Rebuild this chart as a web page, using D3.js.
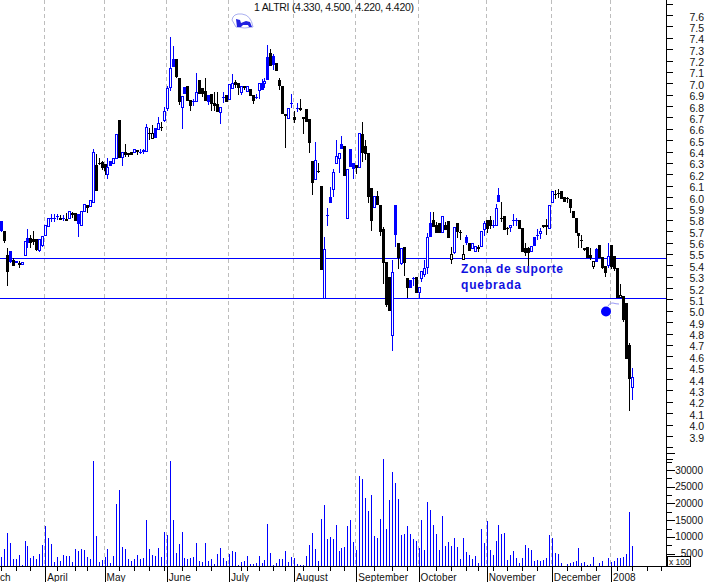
<!DOCTYPE html>
<html><head><meta charset="utf-8">
<script src="https://cdn.jsdelivr.net/npm/d3@7/dist/d3.min.js"></script>
<style>html,body{margin:0;padding:0;background:#fff;overflow:hidden}svg{display:block}text{font-family:"Liberation Sans",Arial,sans-serif}</style>
</head><body><svg id="c" width="707" height="582"></svg>
<script>
const opens=[5.79,5.70,5.49,5.53,5.45,5.44,5.42,5.41,5.49,5.64,
5.64,5.63,5.63,5.53,5.58,5.66,5.75,5.82,5.82,5.83,
5.82,5.82,5.81,5.82,5.86,5.86,5.85,5.76,5.88,5.93,
5.92,5.96,6.28,6.30,6.31,6.29,6.20,6.32,6.30,6.34,
6.68,6.36,6.40,6.39,6.40,6.39,6.41,6.40,6.40,6.41,
6.56,6.52,6.61,6.60,6.62,6.68,6.78,6.96,7.21,7.21,
7.05,6.79,6.97,6.98,6.85,6.84,6.84,7.03,6.96,6.93,
6.90,6.91,6.83,6.82,6.75,6.88,6.90,6.86,6.96,7.01,
7.00,6.93,6.98,6.94,6.95,6.90,6.88,6.94,7.00,7.00,
7.23,7.27,7.24,7.18,7.03,6.98,6.73,6.69,6.83,6.70,
6.78,6.78,6.70,6.77,6.69,6.32,6.16,6.23,6.10,5.11,
5.84,6.00,6.07,6.30,6.35,6.47,6.45,5.82,6.42,6.30,
6.28,6.26,6.55,6.45,6.39,6.08,5.91,6.01,5.93,5.72,
5.43,5.30,4.79,5.93,5.60,5.42,5.56,5.29,5.27,5.29,
5.30,5.17,5.29,5.33,5.39,5.77,5.80,5.75,5.77,5.69,
5.75,5.79,5.46,5.52,5.77,5.69,5.46,5.65,5.60,5.56,
5.53,5.56,5.57,5.72,5.80,5.80,5.75,5.75,6.02,5.82,
5.83,5.73,5.73,5.80,5.80,5.80,5.73,5.55,5.55,5.53,
5.65,5.67,5.68,5.75,5.75,5.73,5.95,6.03,6.04,6.05,
6.00,5.99,5.98,5.88,5.82,5.68,5.62,5.55,5.56,5.49,
5.40,5.54,5.58,5.47,5.39,5.40,5.58,5.48,5.38,5.12,
5.13,5.07,4.70,4.33];
const highs=[5.79,5.70,5.55,5.53,5.46,5.44,5.44,5.43,5.61,5.72,
5.67,5.70,5.63,5.63,5.66,5.75,5.82,5.85,5.85,5.85,
5.84,5.84,5.86,5.88,5.87,5.86,5.85,5.88,5.94,5.93,
5.97,6.42,6.38,6.34,6.32,6.29,6.34,6.32,6.34,6.55,
6.68,6.40,6.47,6.39,6.40,6.42,6.41,6.42,6.42,6.64,
6.61,6.63,6.61,6.70,6.66,6.79,6.98,7.41,7.33,7.21,
7.05,6.89,6.97,6.98,6.85,6.86,7.09,7.03,6.96,7.05,
6.90,6.91,6.92,6.92,6.79,6.92,6.90,6.99,7.08,7.03,
7.00,6.98,6.98,6.98,6.95,6.90,6.91,7.00,7.04,7.05,
7.34,7.30,7.26,7.18,7.05,6.98,6.73,6.78,6.91,6.76,
6.83,6.86,6.70,6.77,6.69,6.32,6.48,6.30,6.10,5.65,
5.90,6.09,6.25,6.50,6.39,6.54,6.45,6.25,6.42,6.30,
6.28,6.56,6.66,6.50,6.39,6.08,6.01,6.05,5.93,5.74,
5.43,5.30,5.45,5.93,5.60,5.55,5.56,5.29,5.27,5.30,
5.30,5.21,5.35,5.45,5.68,5.87,5.87,5.78,5.77,5.83,
5.78,5.79,5.56,5.74,5.77,5.71,5.58,5.67,5.60,5.60,
5.57,5.58,5.70,5.79,5.80,5.83,5.80,5.94,6.08,5.96,
5.83,5.74,5.75,5.85,5.82,5.80,5.73,5.60,5.56,5.57,
5.65,5.72,5.73,5.75,5.81,5.93,6.05,6.06,6.07,6.05,
6.00,6.00,5.98,5.88,5.82,5.68,5.67,5.55,5.56,5.55,
5.44,5.55,5.58,5.47,5.39,5.60,5.58,5.48,5.38,5.24,
5.13,5.07,4.72,4.50];
const lows=[5.69,5.60,5.22,5.42,5.39,5.42,5.38,5.41,5.49,5.55,
5.55,5.58,5.53,5.52,5.56,5.66,5.75,5.78,5.78,5.80,
5.80,5.79,5.79,5.82,5.82,5.79,5.65,5.76,5.88,5.86,
5.92,5.96,6.05,6.28,6.24,6.19,6.16,6.28,6.30,6.34,
6.35,6.27,6.35,6.35,6.37,6.39,6.37,6.38,6.38,6.41,
6.50,6.52,6.52,6.60,6.58,6.66,6.76,6.93,7.14,7.05,
6.81,6.60,6.91,6.85,6.76,6.80,6.84,6.91,6.88,6.84,
6.81,6.76,6.76,6.75,6.64,6.83,6.84,6.86,6.96,6.96,
6.90,6.90,6.94,6.94,6.89,6.82,6.86,6.86,6.94,6.96,
7.03,7.16,7.12,7.11,6.94,6.73,6.43,6.69,6.78,6.65,
6.75,6.76,6.55,6.66,6.39,6.02,6.16,6.21,5.36,5.11,
5.75,5.95,6.00,6.30,6.21,6.43,6.19,5.82,6.26,6.16,
6.20,6.26,6.31,6.33,5.95,5.70,5.91,5.93,5.66,5.24,
5.03,5.00,4.65,5.56,5.37,5.40,5.31,5.11,5.20,5.22,
5.16,5.11,5.25,5.30,5.32,5.65,5.74,5.68,5.68,5.69,
5.71,5.64,5.41,5.50,5.64,5.62,5.46,5.58,5.53,5.55,
5.53,5.52,5.57,5.66,5.68,5.72,5.73,5.75,5.96,5.78,
5.71,5.67,5.69,5.75,5.75,5.72,5.52,5.48,5.39,5.53,
5.57,5.62,5.63,5.73,5.67,5.73,5.95,5.98,5.99,5.98,
5.96,5.95,5.86,5.82,5.69,5.55,5.55,5.53,5.46,5.45,
5.37,5.43,5.47,5.37,5.30,5.38,5.37,5.35,5.12,5.12,
4.90,4.58,4.12,4.22];
const closes=[5.70,5.61,5.34,5.43,5.40,5.42,5.40,5.43,5.61,5.60,
5.60,5.60,5.53,5.63,5.66,5.75,5.82,5.82,5.82,5.83,
5.80,5.82,5.79,5.88,5.84,5.79,5.76,5.88,5.94,5.90,
5.97,6.40,6.05,6.30,6.26,6.23,6.26,6.28,6.34,6.55,
6.35,6.40,6.37,6.37,6.37,6.42,6.39,6.40,6.41,6.62,
6.56,6.56,6.52,6.65,6.62,6.76,6.96,7.13,7.14,7.05,
6.84,6.89,6.91,6.85,6.80,6.84,6.92,6.91,6.91,6.84,
6.84,6.82,6.80,6.75,6.79,6.88,6.84,6.99,7.00,6.98,
6.96,6.98,6.96,6.98,6.89,6.85,6.88,7.00,6.94,7.02,
7.03,7.16,7.16,7.11,6.98,6.73,6.71,6.78,6.83,6.67,
6.78,6.76,6.68,6.66,6.48,6.13,6.33,6.23,5.36,5.54,
5.84,5.95,6.22,6.36,6.39,6.43,6.19,6.25,6.26,6.25,
6.25,6.56,6.38,6.38,6.00,5.79,6.01,5.93,5.69,5.42,
5.05,5.00,5.34,5.67,5.47,5.55,5.42,5.20,5.20,5.29,
5.16,5.21,5.35,5.38,5.65,5.65,5.74,5.68,5.68,5.83,
5.71,5.64,5.50,5.74,5.69,5.69,5.50,5.60,5.53,5.60,
5.57,5.54,5.70,5.77,5.72,5.75,5.75,5.90,5.96,5.82,
5.71,5.73,5.75,5.80,5.80,5.72,5.52,5.51,5.51,5.57,
5.57,5.67,5.70,5.73,5.73,5.93,6.05,6.03,6.04,5.98,
5.96,5.98,5.90,5.82,5.69,5.65,5.62,5.53,5.46,5.46,
5.44,5.43,5.47,5.37,5.33,5.48,5.39,5.37,5.12,5.14,
4.92,4.58,4.40,4.42];
const tones=("bkkbkbkbbb"+"kkkbbbbbbb"+"kbkbkkbbbk"+"bbkkkkbbbb"+"kbkkkbkbbb"+"kkbbkbbbbk"+
"kbbkkbbkkk"+"bkkkbbkbbk"+"kbkbkkbbbb"+"bkbkkkkbbk"+"bkkkkkbkkb"+"bbbbbbkbbb"+"kbkkkkbkkk"+
"kkbbkbkkbb"+"kbbbbbkkkb"+"kkkbkkkbkb"+"bkbbkkbbbk"+"kkbbbkkkkb"+"bbbkkbbkkk"+"kkkkkkkkkk"+
"kbkkkbkkkk"+"kkkb").split("");
const volumes=[4000,6400,11200,8200,3400,3400,4600,1600,8800,7300,
3700,4300,3400,4900,7600,13300,9700,7900,2500,4000,
2800,4600,4300,4300,2500,6400,5800,6400,6100,4000,
3400,32800,10300,2500,3100,4000,6400,2200,4300,19900,
24100,7000,6400,3400,2800,3400,4600,3400,3700,15100,
6400,4600,4300,6700,4000,11500,10600,32800,15100,5200,
7900,11500,3700,3400,3700,4000,8200,2800,2500,8200,
2800,3400,1900,4900,6700,3700,2800,4900,5800,5500,
1600,2500,2800,4300,1900,1900,2200,4300,2200,3100,
13900,5200,1600,2200,3400,3400,5800,2500,4000,3700,
1900,1600,1600,4300,7600,11200,6400,2800,15400,19600,
9400,10000,9400,13600,5800,6700,7000,13300,15100,8500,
6100,28300,27400,21700,17800,22600,10300,9700,15400,33400,
12400,21100,29500,26200,21400,10600,10900,13300,10900,9400,
8800,6700,15100,6100,20500,18100,13600,10900,6100,16300,
7300,8500,7300,9700,7000,3400,9700,5500,4600,3400,
4300,2200,12400,8200,14800,6100,4600,8800,13600,10900,
11200,3100,4600,5800,3700,2200,3700,7600,6700,6100,
2800,3100,2800,3100,3700,10600,9700,5200,4900,2200,
1000,1900,2200,2500,2800,6700,2200,2500,1600,1900,
4000,1000,2200,2800,1000,3700,2500,2800,3700,3700,
4000,4900,17500,7300];
const monthNames=["ch","April","May","June","July","August","September","October","November","December","2008"];
const monthStarts=[-1,15,35,56,77,99,120,141,164,186,206];
const weekTicks=[0,5,10,19,25,29,40,45,50,55,61,66,71,81,83,87,92,96,102,107,111,116,126,132,137,147,152,157,161,166,171,176,181,191,196,201,208,213,218,223];
const priceLabels=d3.range(39,77).map(d=>d/10);
const priceTicks=d3.range(37,78).map(d=>d/10);
const volumeTicks=d3.range(1,15).map(d=>d*2500);
const supportLevels=[5.462,5.11];
const title="1 ALTRI (4.330, 4.500, 4.220, 4.420)";
const note=["Zona de suporte","quebrada"];

const svg=d3.select("#c");
const blue="#0000ff", ink="#000", grid="#bdbdbd";
const axisX=666.5, baseY=566.5;
const x=d3.scaleLinear().domain([0,213]).range([1.33,632.3]);
const y=d3.scaleLinear().domain([3.9,7.6]).range([436,15]);
const v=d3.scaleLinear().domain([0,30000]).range([570.4,470]);
const px=i=>Math.floor(x(i))+0.5;

// month gridlines
svg.append("g").selectAll("line").data(monthStarts.slice(1)).join("line")
 .attr("x1",d=>px(d)-1).attr("x2",d=>px(d)-1).attr("y1",0).attr("y2",baseY)
 .attr("stroke",grid).attr("stroke-width",1).attr("stroke-dasharray","4 3").attr("shape-rendering","crispEdges");

// support lines
svg.append("g").selectAll("line").data(supportLevels).join("line")
 .attr("x1",0).attr("x2",axisX).attr("y1",d=>Math.round(y(d))+0.5).attr("y2",d=>Math.round(y(d))+0.5)
 .attr("stroke",blue).attr("stroke-width",1).attr("shape-rendering","crispEdges");

// volume
svg.append("g").selectAll("rect").data(volumes).join("rect")
 .attr("x",(d,i)=>Math.floor(x(i))).attr("width",1)
 .attr("y",d=>v(d)).attr("height",d=>Math.max(0,baseY-v(d)))
 .attr("fill",blue).attr("shape-rendering","crispEdges");

// candles
const bars=d3.range(opens.length).map(i=>({i,o:opens[i],h:highs[i],l:lows[i],c:closes[i],col:tones[i]==="b"?blue:ink}));
const g=svg.append("g").attr("shape-rendering","crispEdges");
g.selectAll("line").data(bars).join("line")
 .attr("x1",d=>px(d.i)).attr("x2",d=>px(d.i))
 .attr("y1",d=>y(d.h)).attr("y2",d=>y(d.l)).attr("stroke",d=>d.col).attr("stroke-width",1);
g.selectAll("rect").data(bars).join("rect")
 .each(function(d){
  const top=y(Math.max(d.o,d.c)), bot=y(Math.min(d.o,d.c)), fx=Math.floor(x(d.i));
  const s=d3.select(this);
  if(d.c>d.o){ s.attr("x",fx-0.5).attr("width",2).attr("y",Math.round(top)+0.5).attr("height",Math.max(1,Math.round(bot-top)))
     .attr("fill","#fff").attr("stroke",d.col).attr("stroke-width",1); }
  else { s.attr("x",fx-1).attr("width",3).attr("y",Math.round(top)).attr("height",Math.max(1,Math.round(bot-top)))
     .attr("fill",d.col).attr("stroke","none"); }
 });

// axes
const ax=svg.append("g").attr("shape-rendering","crispEdges").attr("stroke",ink).attr("stroke-width",1);
ax.append("line").attr("x1",0).attr("x2",axisX).attr("y1",baseY).attr("y2",baseY);
ax.append("line").attr("x1",axisX).attr("x2",axisX).attr("y1",0).attr("y2",baseY);
ax.selectAll(".w").data(weekTicks).join("line").attr("class","w").attr("x1",d=>px(d)).attr("x2",d=>px(d)).attr("y1",baseY).attr("y2",baseY+4);
ax.selectAll(".m").data(monthStarts.slice(1)).join("line").attr("class","m").attr("x1",d=>px(d)).attr("x2",d=>px(d)).attr("y1",baseY).attr("y2",582);
ax.selectAll(".p").data(priceTicks).join("line").attr("class","p").attr("x1",axisX).attr("x2",axisX+6).attr("y1",d=>Math.round(y(d))+0.5).attr("y2",d=>Math.round(y(d))+0.5);
ax.selectAll(".v").data(volumeTicks).join("line").attr("class","v").attr("x1",axisX).attr("x2",d=>axisX+(d%5000===0?8:5)).attr("y1",d=>Math.round(v(d))+0.5).attr("y2",d=>Math.round(v(d))+0.5);

// labels
svg.append("g").selectAll("text").data(priceLabels).join("text")
 .attr("x",704).attr("y",d=>y(d)+5.5).attr("text-anchor","end").attr("font-size",10.5).attr("fill","#111").text(d=>d.toFixed(1));
svg.append("g").selectAll("text").data(volumeTicks.filter(d=>d%5000===0&&d<=30000)).join("text")
 .attr("x",703).attr("y",d=>v(d)+3.5).attr("text-anchor","end").attr("font-size",10).attr("fill","#111").text(d=>d);
svg.append("g").selectAll("text").data(monthNames).join("text")
 .attr("x",(d,i)=>i?x(monthStarts[i])+1.5:0).attr("y",581).attr("font-size",10).attr("letter-spacing",0.1).attr("fill","#111").text(d=>d);
svg.append("text").attr("x",254).attr("y",11).attr("font-size",10.5).attr("textLength",160).attr("fill","#111").text(title);
svg.append("g").selectAll("text").data(note).join("text")
 .attr("x",461).attr("y",(d,i)=>273+i*16).attr("font-size",12).attr("font-weight","bold").attr("fill","#1010e0")
 .attr("textLength",(d,i)=>i?60:102).text(d=>d);

// x 100 box
svg.append("rect").attr("x",667.5).attr("y",556.5).attr("width",23).attr("height",10).attr("fill","#fff").attr("stroke",ink).attr("shape-rendering","crispEdges");
svg.append("text").attr("x",669).attr("y",565).attr("font-size",8.5).attr("fill","#111").text("x 100");

// bomb
svg.append("circle").attr("cx",606).attr("cy",311.5).attr("r",5).attr("fill",blue);
svg.append("path").attr("d","M608 306Q610 302 613 303Q616 304 619 304").attr("fill","none").attr("stroke","#9a9af5").attr("stroke-width",1);
// bull
const bull=svg.append("g");
bull.append("path").attr("d","M232 20Q233 13 242 14Q251 15 253 27Q245 29 236 27Z").attr("fill","none").attr("stroke","#aab0f0").attr("stroke-width",1);
bull.append("path").attr("d","M236 19L240 20L241 23L246 21L250 22L252 27L249 27L248 25L243 25L241 27L237 27Z").attr("fill","#2020e0");
</script></body></html>
